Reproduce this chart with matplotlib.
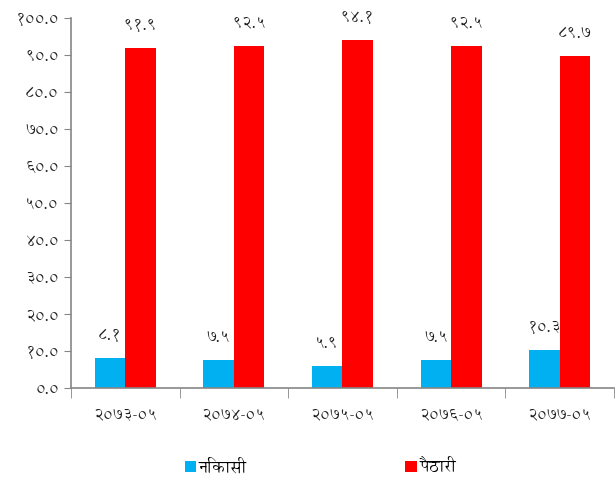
import matplotlib
matplotlib.use("Agg")
import matplotlib.pyplot as plt
import numpy as np

plt.rcParams['font.family'] = ['Annapurna SIL', 'Noto Sans Devanagari', 'Hind', 'DejaVu Sans']

categories = ["२०७३-०५", "२०७४-०५", "२०७५-०५", "२०७६-०५", "२०७७-०५"]
export_vals = [8.1, 7.5, 5.9, 7.5, 10.3]    # निकासी
import_vals = [91.9, 92.5, 94.1, 92.5, 89.7]  # पैठारी
series_names = ["निकासी", "पैठारी"]

DEV = str.maketrans("0123456789", "०१२३४५६७८९")


def dev(v):
    return f"{v:.1f}".translate(DEV)


fig = plt.figure(figsize=(6.16, 4.84), dpi=100)
ax = fig.add_axes([0.115, 0.198, 0.882, 0.765])

x = np.arange(len(categories))
w = 0.28
b1 = ax.bar(x - w / 2, export_vals, w, color="#00B0F0", label=series_names[0])
b2 = ax.bar(x + w / 2, import_vals, w, color="#FF0000", label=series_names[1])

for bars, vals in [(b1, export_vals), (b2, import_vals)]:
    for r, v in zip(bars, vals):
        ax.annotate(dev(v), (r.get_x() + r.get_width() / 2, v),
                    xytext=(0, 11), textcoords="offset points",
                    ha="center", va="bottom", fontsize=12, color="#222222")

ax.set_xlim(-0.5, len(categories) - 0.5)
ax.set_ylim(0, 100)
yt = np.arange(0, 101, 10)
ax.set_yticks(yt)
ax.set_yticklabels([dev(t) for t in yt], fontsize=12, color="#222222")
ax.set_xticks(x)
ax.set_xticklabels(categories, fontsize=12, color="#222222")
ax.set_xticks(np.arange(-0.5, len(categories)), minor=True)
ax.tick_params(axis="x", which="major", length=0, pad=14)
ax.tick_params(axis="x", which="minor", length=7, color="#868686")
ax.tick_params(axis="y", length=5, color="#868686")

for s in ["top", "right"]:
    ax.spines[s].set_visible(False)
for s in ["left", "bottom"]:
    ax.spines[s].set_color("#868686")
    ax.spines[s].set_linewidth(1.2)

fig.legend(loc="center", bbox_to_anchor=(0.52, 0.035), ncol=2, frameon=False,
           fontsize=12, handlelength=0.7, handleheight=0.7, handletextpad=0.15,
           columnspacing=9.5)

fig.savefig("out.png")
